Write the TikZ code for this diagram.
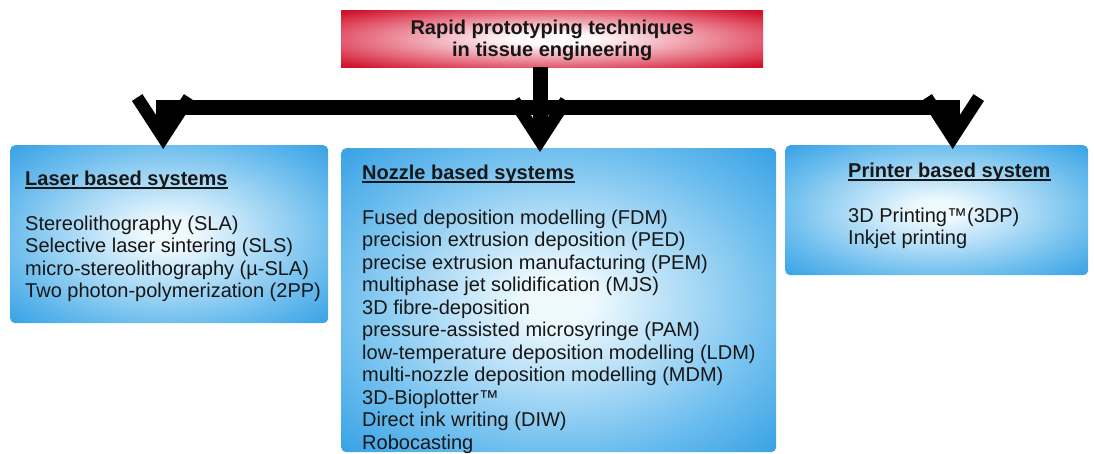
\documentclass[tikz,border=0pt]{standalone}
\usepackage{fontspec}
\setmainfont{Liberation Sans}
\usetikzlibrary{arrows.meta}
\definecolor{redo}{RGB}{208,18,42}
\definecolor{redm}{RGB}{226,90,110}
\definecolor{redi}{RGB}{255,250,252}
\definecolor{blueo}{RGB}{52,160,228}
\definecolor{bluem}{RGB}{110,190,238}
\definecolor{bluei}{RGB}{238,249,254}
\definecolor{txt}{RGB}{22,22,22}
\pgfdeclareradialshading{blueglow}{\pgfpointorigin}{color(0bp)=(bluei); color(4bp)=(bluei); color(25bp)=(bluem); color(36bp)=(blueo); color(50bp)=(blueo)}
\pgfdeclareradialshading{redglow}{\pgfpointorigin}{color(0bp)=(redi); color(5bp)=(redi); color(25bp)=(redm); color(34bp)=(redo); color(50bp)=(redo)}
\newsavebox\ulbox
\newcommand\ulx[1]{\sbox\ulbox{#1}\rlap{\rule[-3.4pt]{\wd\ulbox}{1.3pt}}\usebox\ulbox}
\begin{document}
\begin{tikzpicture}[x=1pt,y=-1pt,
  bluebox/.style={shade, shading=blueglow, rounded corners=5pt,
    anchor=north west, inner sep=0pt},
  redbox/.style={shade, shading=redglow, anchor=north west, inner sep=0pt,
    minimum width=422pt, minimum height=57pt},
  listtxt/.style={anchor=north west, inner sep=0pt, align=left, text=txt,
    font=\fontsize{20}{22.5}\selectfont},
  conn/.style={draw=black, line width=15pt},
  chev/.style={-{Straight Barb[length=40pt,width=52pt,line width=12.5pt]}, shorten >=-4pt}
]
\useasboundingbox (0,0) rectangle (1094,454);

% boxes
\node[redbox] (top) at (341,10) {};
\node[text=txt, align=center, font=\bfseries\fontsize{20}{22}\selectfont] (title) at ([yshift=-2pt]top.center)
  {Rapid prototyping techniques\\in tissue engineering};

\node[bluebox, minimum width=318pt, minimum height=178pt] (laser) at (10,145) {};
\node[bluebox, minimum width=435pt, minimum height=304pt] (nozzle) at (341,148) {};
\node[bluebox, minimum width=303pt, minimum height=130pt] (printer) at (785,145) {};

% texts
\node[listtxt] (lasertxt) at (25,170)
  {\rule{0pt}{15pt}\ulx{\bfseries Laser based systems}\\[22.5pt]
   Stereolithography (SLA)\\
   Selective laser sintering (SLS)\\
   micro-stereolithography (µ-SLA)\\
   Two photon-polymerization (2PP)};
\node[listtxt] (nozzletxt) at (362,164)
  {\rule{0pt}{15pt}\ulx{\bfseries Nozzle based systems}\\[22.5pt]
   Fused deposition modelling (FDM)\\
   precision extrusion deposition (PED)\\
   precise extrusion manufacturing (PEM)\\
   multiphase jet solidification (MJS)\\
   3D fibre-deposition\\
   pressure-assisted microsyringe (PAM)\\
   low-temperature deposition modelling (LDM)\\
   multi-nozzle deposition modelling (MDM)\\
   3D-Bioplotter™\\
   Direct ink writing (DIW)\\
   Robocasting};
\node[listtxt] (printertxt) at (848,162)
  {\rule{0pt}{15pt}\ulx{\bfseries Printer based system}\\[22.5pt]
   3D Printing™(3DP)\\
   Inkjet printing};

% connectors
\coordinate (j) at (540,107.5);
\draw[conn] (top.south -| j) -- (j);
\draw[conn, chev] (j) -| ([xshift=-6pt]laser.north);
\draw[conn, chev] (j) -- (j |- nozzle.north);
\draw[conn, chev] (j) -| ([xshift=16pt]printer.north);
\end{tikzpicture}
\end{document}
